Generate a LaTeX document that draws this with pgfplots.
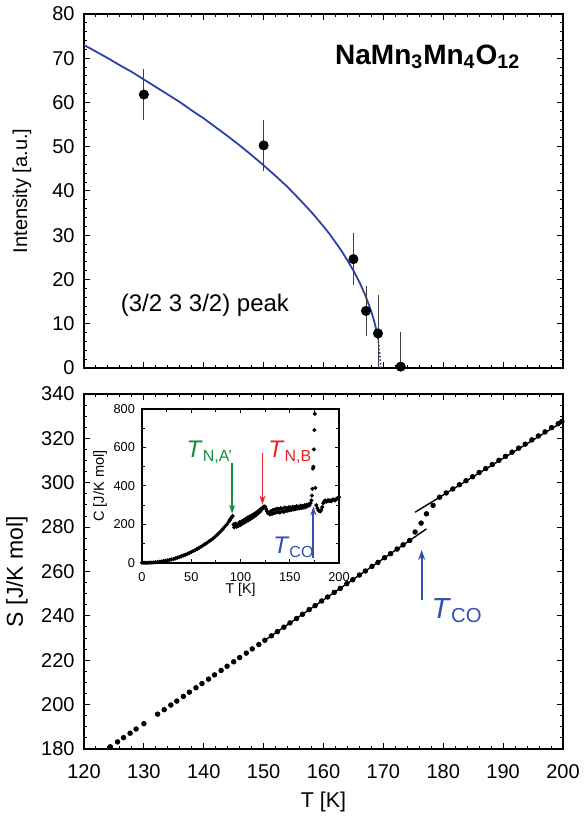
\documentclass[border=0pt]{standalone}
\usepackage{fontspec}
\setmainfont{Liberation Sans}
\usepackage{pgfplots}
\pgfplotsset{compat=1.18}
\usetikzlibrary{calc,arrows.meta}

\definecolor{fitblue}{RGB}{45,65,170}
\definecolor{coblue}{RGB}{50,80,180}
\definecolor{ngreen}{RGB}{20,140,60}
\definecolor{nred}{RGB}{235,35,40}

\pgfplotsset{
  frame/.style={
    scale only axis,
    tick align=inside,
    major tick length=3pt,
    minor tick length=1.7pt,
    every tick/.append style={black, line width=0.5pt},
    axis line style={line width=0.7pt},
    /pgf/number format/assume math mode=true,
  },
  panel/.style={
    frame,
    width=239.5pt,
    xmin=120, xmax=200,
    xtick distance=10, minor x tick num=4,
    tick label style={font=\fontsize{10}{12}\selectfont},
    xticklabel style={yshift=-4pt},
    yticklabel style={xshift=-1.2pt},
  },
}

\begin{document}
\begin{tikzpicture}

% top: magnetic peak intensity
\begin{axis}[panel, name=top,
    height=177pt,
    ymin=0, ymax=80, ytick distance=10, minor y tick num=4,
    xticklabels={},
    ylabel={Intensity [a.u.]},
    ylabel style={at={(axis description cs:-0.1294,0.5)}, anchor=center,
      font=\fontsize{10}{12}\selectfont},
  ]
  \addplot[fitblue, line width=0.9pt] coordinates {
    (120,73.0) (122,71.5) (124,70.0) (126,68.4) (128,66.9) (130,65.2)
    (132,63.5) (134,61.8) (136,60.1) (138,58.2) (140,56.4) (142,54.4)
    (144,52.4) (146,50.3) (148,48.1) (150,45.8) (152,43.4) (154,40.9)
    (156,38.1) (158,35.2) (160,32.0) (161,30.3) (162,28.4) (163,26.5)
    (164,24.3) (165,22.0) (166,19.4) (167,16.4) (168,12.7) (168.5,10.4)
    (169,7.6)
  };
  \addplot[fitblue, line width=0.8pt, densely dotted] coordinates {
    (169,7.6) (169.3,4.6) (169.6,0)
  };
  \addplot[only marks, mark=*, mark size=2.3pt, black,
      error bars/.cd, y dir=both, y explicit,
      error bar style={line width=0.4pt, black!75},
      error mark options={mark size=1.6pt, line width=0.4pt, black!75}]
    coordinates {
    (130,61.8)   +- (0,5.0)
    (150,50.3)   +- (0,5.0)
    (165.0,24.6) +- (0,5.1)
    (167.1,12.9) +- (0,4.9)
    (169.1,7.8)  +- (0,7.9)
    (172.9,0.3)  +- (0,7.2)
  };
  \node[font=\bfseries\fontsize{14}{16}\selectfont] at (axis cs:177.4,70.3)
    {NaMn\textsubscript{3}Mn\textsubscript{4}O\textsubscript{12}};
  \node[font=\fontsize{12}{14}\selectfont] at (axis cs:140.2,14.2) {(3/2 3 3/2) peak};
\end{axis}

% bottom: entropy
\begin{axis}[panel, name=bot,
    at={($(top.south west)+(0,-13pt)$)}, anchor=north west,
    height=177.5pt,
    ymin=180, ymax=340, ytick distance=20, minor y tick num=3,
    xlabel={T [K]},
    xlabel style={at={(axis description cs:0.5,-0.149)}, anchor=center,
      font=\fontsize{10.7}{12}\selectfont},
    ylabel={S [J/K mol]},
    ylabel style={at={(axis description cs:-0.14,0.5)}, anchor=center,
      font=\fontsize{11.5}{13}\selectfont},
  ]
  \addplot[black, line width=0.7pt] coordinates {(150,228.6) (177.2,279.2)};
  \addplot[black, line width=0.7pt] coordinates {(175.3,286.7) (200,327.5)};
  \addplot[only marks, mark=*, mark size=1.15pt, black] coordinates {
    (124.4,181.0) (125.6,183.2) (126.6,185.1) (127.7,187.1) (128.7,189.0)
    (130.0,191.4) (132.3,195.7) (133.4,197.7) (134.5,199.8) (135.5,201.6)
    (136.6,203.7) (137.6,205.6) (138.7,207.6) (139.7,209.5) (140.8,211.5)
    (141.8,213.4) (142.9,215.4) (143.9,217.3) (145.0,219.3) (146.0,221.2)
    (147.1,223.2) (148.1,225.1) (149.2,227.1) (150.2,229.0) (151.3,231.0)
    (152.3,232.9) (153.4,234.9) (154.4,236.8) (155.5,238.8) (156.5,240.7)
    (157.6,242.8) (158.6,244.6) (159.7,246.7) (160.7,248.5) (161.8,250.6)
    (162.8,252.4) (163.9,254.5) (164.9,256.3) (166.0,258.4) (167.0,260.2)
    (168.1,262.3) (169.1,264.1) (170.2,266.2) (171.2,268.0) (172.3,270.1)
    (173.3,272.0) (174.4,274.0) (175.3,277.8) (176.3,281.8) (177.2,286.0)
    (178.3,289.8) (179.4,293.5) (180.5,295.4) (181.6,297.2) (182.7,299.1)
    (183.8,300.9) (184.9,302.7) (186.0,304.6) (187.1,306.4) (188.2,308.2)
    (189.3,310.1) (190.4,311.9) (191.5,313.8) (192.6,315.6) (193.7,317.4)
    (194.8,319.3) (195.9,321.1) (197.0,322.9) (198.1,324.8) (199.2,326.6)
    (199.8,327.6)
  };
  \draw[coblue, line width=0.9pt, -{Stealth[length=5pt,width=3.5pt]}]
    (axis cs:176.4,247.2) -- (axis cs:176.4,269.7);
  \node[coblue, anchor=base west, inner sep=0pt, font=\fontsize{14.5}{16}\selectfont]
    at (axis cs:178,238.9) {\textit{T}\textsubscript{CO}};
\end{axis}

% inset: specific heat
\begin{axis}[frame, name=ins,
    at={($(bot.north west)+(29pt,-7.5pt)$)}, anchor=north west,
    width=98.5pt, height=77pt,
    xmin=0, xmax=200, ymin=0, ymax=800,
    xtick={0,50,...,200}, ytick={0,200,...,800},
    minor x tick num=1, minor y tick num=1,
    major tick length=2.2pt, minor tick length=1.3pt,
    axis line style={line width=0.6pt},
    axis background/.style={fill=white},
    tick label style={font=\fontsize{6.4}{8}\selectfont},
    xticklabel style={yshift=-1.5pt},
    xlabel={T [K]},
    xlabel style={at={(axis description cs:0.5,-0.175)}, anchor=center,
      font=\fontsize{7.1}{8}\selectfont},
    ylabel={C [J/K mol]},
    ylabel style={at={(axis description cs:-0.213,0.5)}, anchor=center,
      font=\fontsize{7.3}{8}\selectfont},
  ]
  \addplot[only marks, mark=*, mark size=0.8pt, black] coordinates {
    (0,1) (2,1) (4,1) (6,1) (8,2) (10,2) (12,3) (14,4) (16,5) (18,6)
    (20,8) (22,10) (24,12) (26,14) (28,16) (30,18) (32,21) (34,24) (36,28)
    (38,31) (40,35) (42,39) (44,43) (46,47) (48,52) (50,57) (52,62) (54,67)
    (56,73) (58,79) (60,85) (62,91) (64,98) (66,105) (68,112) (70,119)
    (72,127) (74,136) (76,145) (78,155) (80,165) (82,176) (84,188) (86,200)
    (88,214) (89,222) (90,230) (91,238) (92,244)
    (93,200) (93.5,185) (94,195)
    (95,205) (96,188) (97,200) (98,192) (99,212) (100,198) (101,215)
    (102,205) (103,222) (104,210) (105,228) (106,216) (107,235) (108,222)
    (109,240) (110,228) (111,246) (112,235) (113,252) (114,242) (115,258)
    (116,250) (117,266) (118,258) (119,274) (120,268) (121,282) (122,280)
    (123,290) (124,294) (125,292) (126,280) (127,268) (128,258) (129,262)
    (130,252) (131,270) (132,255) (133,275) (134,258) (135,278) (136,262)
    (137,282) (138,264) (139,280) (140,262) (141,285) (142,268) (143,282)
    (144,265) (145,288) (146,270) (147,285) (148,272) (149,290) (150,274)
    (151,288) (152,276) (153,292) (154,278) (155,290) (156,280) (157,295)
    (158,282) (159,292) (160,284) (161,298) (162,286) (163,295) (164,288)
    (165,300) (166,290) (167,302) (168,295) (169,305) (170,300) (171,310)
    (172,325) (172.5,350) (173,385) (173.5,490) (174,500) (174.5,590)
    (175,690) (175.5,775) (176,390) (177,300) (178,285) (179,275) (180,270)
    (181,268) (182,275) (183,290) (184,310) (185,320) (186,325) (187,318)
    (188,322) (189,326) (190,322) (191,325) (192,320) (193,326) (194,330)
    (195,328) (196,325) (197,330) (198,335) (199,338) (200,342)
  };
  \draw[ngreen, line width=0.9pt, -{Stealth[length=4.5pt,width=3pt]}]
    (axis cs:91.5,521) -- (axis cs:91.5,256);
  \draw[nred, line width=0.9pt, -{Stealth[length=4.5pt,width=3pt]}]
    (axis cs:122.3,573) -- (axis cs:122.3,304);
  \draw[coblue, line width=0.9pt, -{Stealth[length=4.5pt,width=3pt]}]
    (axis cs:174,26) -- (axis cs:174,294);
  \node[ngreen, anchor=base west, inner sep=0pt, font=\fontsize{12}{14}\selectfont]
    at (axis cs:45,547) {\textit{T}\textsubscript{N,A'}};
  \node[nred, anchor=base west, inner sep=0pt, font=\fontsize{12}{14}\selectfont]
    at (axis cs:128,547) {\textit{T}\textsubscript{N,B}};
  \node[coblue, anchor=base west, inner sep=0pt, font=\fontsize{12}{14}\selectfont]
    at (axis cs:133,48) {\textit{T}\textsubscript{CO}};
\end{axis}

\pgfresetboundingbox
\path ($(top.north west)+(-42pt,7pt)$) rectangle ($(top.north west)+(249.5pt,-401.5pt)$);
\end{tikzpicture}
\end{document}
